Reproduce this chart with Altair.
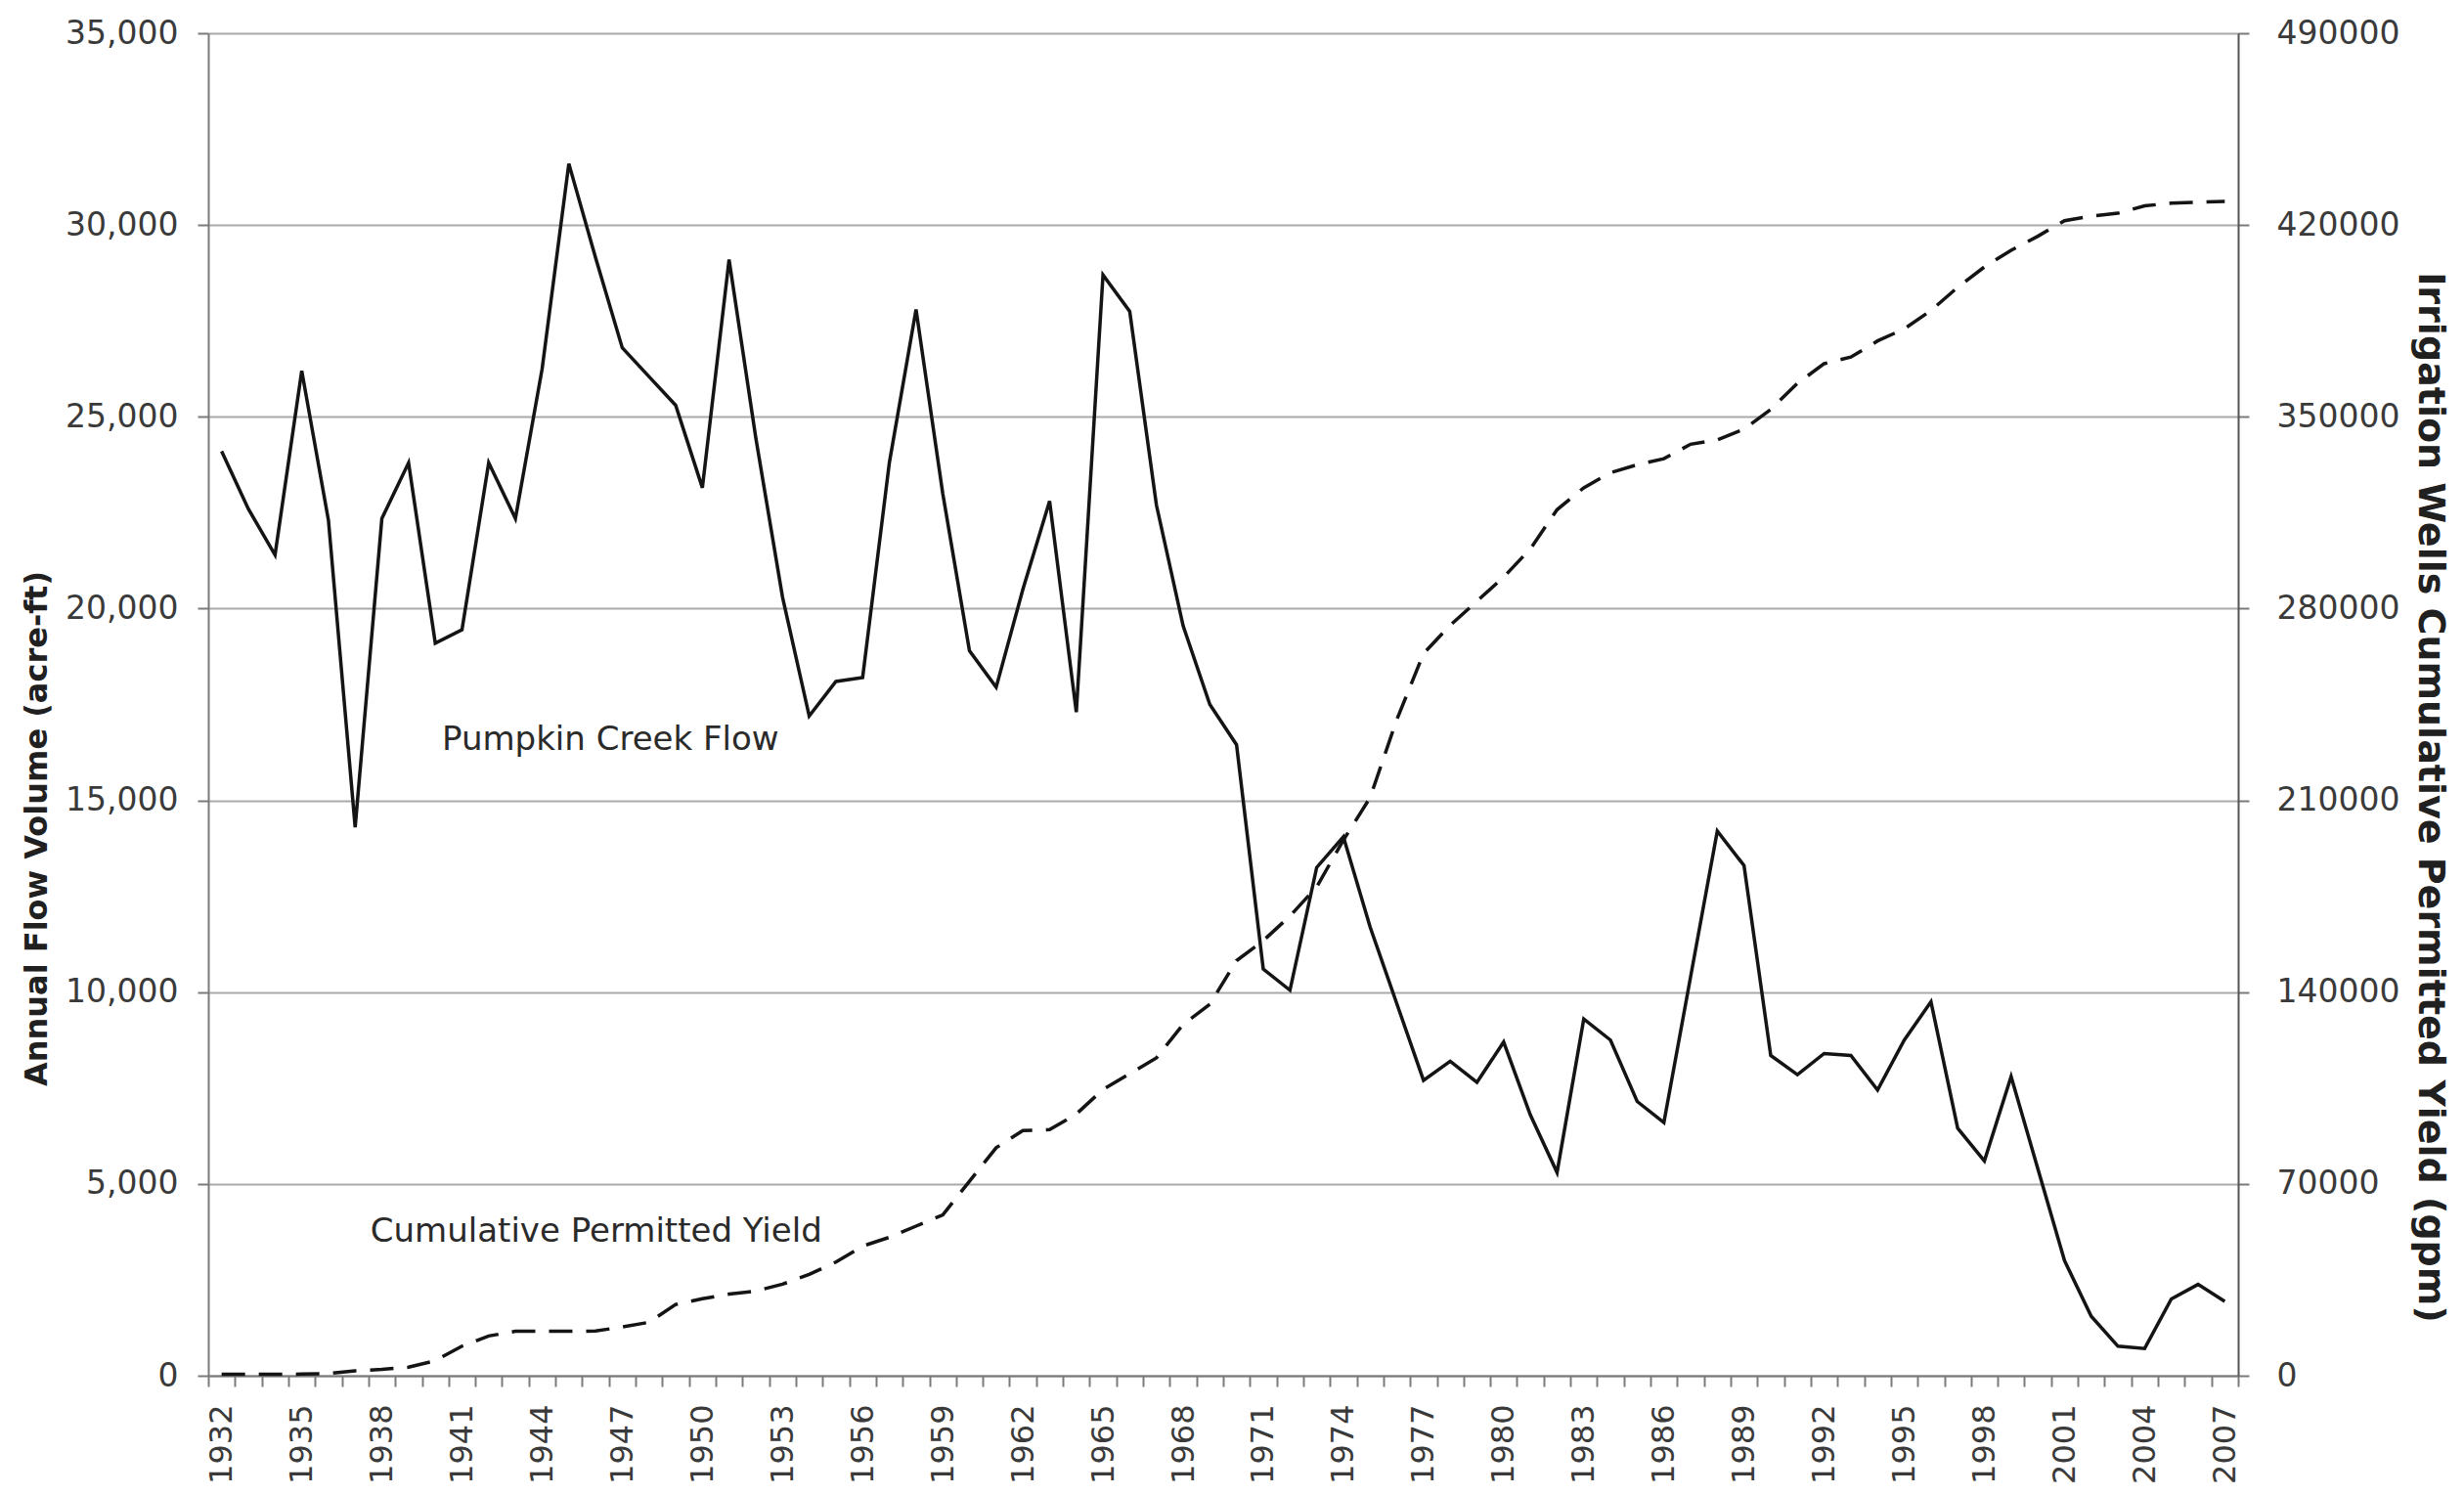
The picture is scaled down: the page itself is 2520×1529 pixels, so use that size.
import altair as alt
import pandas as pd

# ---------------- data ----------------
years = list(range(1932, 2008))

flow = [
    24100, 22600, 21400, 26200, 22300, 14300, 22350, 23800, 19100, 19450,
    23800, 22350, 26250, 31600, 29150, 26800, 26050, 25300, 23150, 29100,
    24450, 20300, 17200, 18100, 18200, 23800, 27800, 23000, 18900, 17950,
    20500, 22800, 17300, 28700, 27750, 22700, 19550, 17500, 16450, 10600,
    10050, 13250, 14050, 11700, 9700, 7700, 8200, 7650, 8700, 6800,
    5300, 9300, 8750, 7150, 6600, 10400, 14200, 13300, 8350, 7850,
    8400, 8350, 7450, 8750, 9750, 6450, 5600, 7800, 5400, 3000,
    1550, 770, 710, 2000, 2380, 1940,
]

cum_yield = [
    500, 500, 500, 600, 800, 1800, 2300, 3100, 5500, 10800,
    14500, 16200, 16200, 16200, 16300, 17800, 19500, 26000, 28100, 29800,
    30900, 33400, 37000, 41500, 47300, 50500, 54600, 58700, 71000, 83200,
    89500, 89800, 95500, 104500, 110200, 116000, 128200, 135600, 151500, 158800,
    167800, 178400, 195500, 211000, 239500, 263600, 273900, 282700, 291500, 301800,
    316100, 324100, 329600, 332500, 334700, 340000, 341600, 345500, 352700, 362200,
    369400, 371800, 377700, 382100, 388800, 397300, 404700, 410800, 415900, 421600,
    423200, 424300, 427000, 428000, 428300, 428600,
]

left_ticks = [0, 5000, 10000, 15000, 20000, 25000, 30000, 35000]
right_ticks = [0, 70000, 140000, 210000, 280000, 350000, 420000, 490000]

label_texts = ["Pumpkin Creek Flow", "Cumulative Permitted Yield"]
label_years = [1940, 1938]
label_values = [16580, 3760]   # in left-axis units

df = pd.DataFrame({"year": years, "flow": flow, "cum": cum_yield})

FONT = "DejaVu Sans"
W, H = 2076, 1373
GRID = "#a9a9a9"
AXIS = "#7a7a7a"
LABEL = "#3a3a3a"
LINE = "#141414"

x_scale = alt.Scale(type="band", domain=years, paddingInner=0, paddingOuter=0)
x_axis = alt.Axis(
    tickBand="extent",
    labelExpr="(datum.value - 1932) % 3 == 0 ? datum.label : ''",
    labelAngle=270,
    labelOverlap=False,
    labelFontSize=32,
    labelColor=LABEL,
    labelPadding=18,
    tickSize=11,
    tickWidth=2,
    tickColor=AXIS,
    domainColor=AXIS,
    domainWidth=2,
    grid=False,
    title=None,
)

left_axis = alt.Axis(
    values=left_ticks,
    format=",.0f",
    grid=True,
    gridColor=GRID,
    gridWidth=2,
    domainColor=AXIS,
    domainWidth=2,
    tickColor=AXIS,
    tickWidth=2,
    tickSize=11,
    labelFontSize=33,
    labelColor=LABEL,
    labelPadding=20,
    title="Annual Flow Volume (acre-ft)",
    titleFontSize=32,
    titleFontWeight="bold",
    titleColor="#202020",
    titlePadding=12,
    titleY=813,
)
left_scale = alt.Scale(domain=[0, 35000], nice=False)

right_axis = alt.Axis(
    orient="right",
    values=right_ticks,
    format="d",
    grid=False,
    domainColor="#555555",
    domainWidth=2,
    tickColor=AXIS,
    tickWidth=2,
    tickSize=11,
    labelFontSize=33,
    labelColor=LABEL,
    labelPadding=28,
    title="Irrigation Wells Cumulative Permitted Yield (gpm)",
    titleFontSize=38,
    titleFontWeight="bold",
    titleColor="#202020",
    titlePadding=12,
    titleY=781,
)
right_scale = alt.Scale(domain=[0, 490000], nice=False)

flow_line = alt.Chart(df).mark_line(color=LINE, strokeWidth=3.5).encode(
    x=alt.X("year:O", scale=x_scale, axis=x_axis, bandPosition=0.5),
    y=alt.Y("flow:Q", scale=left_scale, axis=left_axis),
)

bands = [0.75, 0.07]
text_layers = []
for t, yr, v, b in zip(label_texts, label_years, label_values, bands):
    tdf = pd.DataFrame({"year": [yr], "flow": [v], "t": [t]})
    text_layers.append(
        alt.Chart(tdf).mark_text(
            align="left", baseline="middle", font=FONT, fontSize=34, color="#2a2a2a"
        ).encode(
            x=alt.X("year:O", scale=x_scale, axis=x_axis, bandPosition=b),
            y=alt.Y("flow:Q", scale=left_scale, axis=left_axis),
            text="t:N",
        )
    )

left_layer = alt.layer(flow_line, *text_layers)

cum_line = alt.Chart(df).mark_line(
    color=LINE, strokeWidth=3.5, strokeDash=[24, 14]
).encode(
    x=alt.X("year:O", scale=x_scale, axis=x_axis, bandPosition=0.5),
    y=alt.Y("cum:Q", scale=right_scale, axis=right_axis),
)

chart = (
    alt.layer(left_layer, cum_line)
    .resolve_scale(y="independent")
    .properties(
        width=W,
        height=H,
        autosize=alt.AutoSizeParams(type="none"),
        padding={"left": 205, "top": 26, "right": 223, "bottom": 114},
        background="white",
    )
    .configure_view(stroke="transparent")
    .configure_axis(labelFont=FONT, titleFont=FONT)
)

chart.save("out.html", embed_options={"renderer": "svg", "actions": False})
